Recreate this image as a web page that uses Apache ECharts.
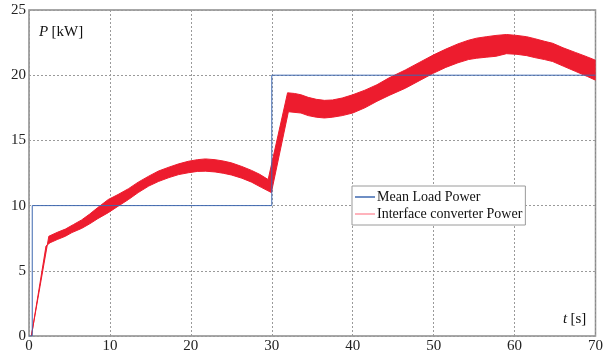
<!DOCTYPE html>
<html>
<head>
<meta charset="utf-8">
<script src="https://cdn.jsdelivr.net/npm/echarts@6/dist/echarts.min.js"></script>
<style>
  html, body { margin: 0; padding: 0; background: #fff; }
  #chart { width: 606px; height: 354px; }
</style>
</head>
<body>
<div id="chart"></div>
<script>
// Mean load power: step reference [t (s), P (kW)]
const loadPower = [[0, 0], [0.4, 0], [0.4, 10], [30, 10], [30, 20], [70, 20]];

// Interface converter power: upper envelope of the oscillating signal [t, P]
const converterUpper = [
  [0.3, 0.05], [2.45, 7.65], [3.5, 7.95], [4.5, 8.2], [5.5, 8.55], [6.5, 8.9],
  [7.5, 9.35], [8.5, 9.85], [9.8, 10.47], [11.0, 10.85], [12.3, 11.3], [13.5, 11.8],
  [14.8, 12.26], [16.0, 12.65], [17.3, 12.95], [18.5, 13.2], [19.7, 13.4],
  [20.8, 13.52], [21.8, 13.58], [23.0, 13.52], [24.0, 13.42], [25.0, 13.28],
  [26.3, 13.0], [27.5, 12.7], [28.5, 12.4], [29.55, 12.0],
  [31.95, 18.65], [32.8, 18.6], [33.6, 18.5], [34.5, 18.3], [35.5, 18.15],
  [36.5, 18.07], [37.5, 18.1], [38.7, 18.25], [40.0, 18.5], [41.5, 18.85],
  [43.0, 19.27], [44.5, 19.8], [46.5, 20.4], [48.3, 21.0], [50.0, 21.56],
  [51.5, 22.0], [53.0, 22.4], [54.3, 22.68], [55.3, 22.84], [56.5, 22.95],
  [57.7, 23.05], [59.0, 23.12], [60.3, 23.05], [61.5, 22.95], [62.5, 22.8],
  [63.7, 22.6], [64.7, 22.45], [66.0, 22.1], [67.5, 21.75], [69.0, 21.4], [70.0, 21.15]
];

// Interface converter power: lower envelope [t, P]
const converterLower = [
  [0.3, 0.0], [2.1, 6.9], [2.6, 7.15], [3.5, 7.4], [4.5, 7.65], [5.3, 7.93],
  [6.5, 8.25], [7.5, 8.6], [8.5, 9.0], [9.8, 9.46], [11.0, 9.95], [12.3, 10.47],
  [13.5, 11.0], [14.8, 11.5], [16.0, 11.85], [17.3, 12.15], [18.5, 12.38],
  [19.7, 12.52], [20.8, 12.62], [21.8, 12.64], [23.0, 12.58], [24.0, 12.48],
  [25.0, 12.35], [26.3, 12.1], [27.5, 11.8], [28.7, 11.4], [29.95, 11.0],
  [32.05, 17.2], [33.6, 17.1], [34.5, 16.9], [35.5, 16.78], [36.5, 16.72],
  [37.5, 16.78], [38.7, 16.9], [40.0, 17.1], [41.5, 17.5], [43.0, 18.0],
  [44.5, 18.45], [46.5, 19.0], [48.3, 19.6], [50.0, 20.16], [51.5, 20.6],
  [53.0, 20.95], [54.3, 21.2], [55.3, 21.3], [56.5, 21.38], [57.7, 21.45],
  [59.0, 21.65], [60.3, 21.6], [61.5, 21.5], [62.5, 21.35], [63.7, 21.2],
  [64.7, 21.05], [66.0, 20.7], [67.5, 20.3], [69.0, 19.9], [70.0, 19.62]
];

const xTicks = [0, 10, 20, 30, 40, 50, 60, 70];
const yTicks = [0, 5, 10, 15, 20, 25];

const serif = '"Liberation Serif", "DejaVu Serif", serif';
const chart = echarts.init(document.getElementById('chart'), null, { renderer: 'canvas' });

// band polygon: upper envelope left→right, lower envelope right→left
function renderBand(params, api) {
  const pts = [];
  converterUpper.forEach(p => pts.push(api.coord(p)));
  for (let i = converterLower.length - 1; i >= 0; i--) pts.push(api.coord(converterLower[i]));
  return {
    type: 'polygon',
    shape: { points: pts },
    style: { fill: '#ed1c2e', stroke: '#ed1c2e', lineWidth: 1 },
    clipPath: {
      type: 'rect',
      shape: { x: params.coordSys.x, y: params.coordSys.y, width: params.coordSys.width, height: params.coordSys.height }
    }
  };
}

chart.setOption({
  animation: false,
  backgroundColor: '#fff',
  grid: {
    left: 29, right: 6, top: 10, bottom: 17,
    show: true, borderColor: '#8a8a8a', borderWidth: 1.5, backgroundColor: 'transparent'
  },
  xAxis: {
    type: 'value', min: xTicks[0], max: xTicks[xTicks.length - 1], interval: 10,
    axisLine: { show: false },
    axisTick: { show: false },
    axisLabel: { fontFamily: serif, fontSize: 15, color: '#222', margin: 3 },
    splitLine: { show: true, lineStyle: { color: '#9a9a9a', type: [2, 2], width: 1 } }
  },
  yAxis: {
    type: 'value', min: yTicks[0], max: yTicks[yTicks.length - 1], interval: 5,
    axisLine: { show: false },
    axisTick: { show: false },
    axisLabel: { fontFamily: serif, fontSize: 15, color: '#222', margin: 3 },
    splitLine: { show: true, lineStyle: { color: '#9a9a9a', type: [2, 2], width: 1 } }
  },
  legend: {
    orient: 'vertical',
    left: 352, top: 186,
    padding: [3, 3, 3, 3],
    itemGap: 1,
    itemWidth: 20, itemHeight: 1.5,
    icon: 'rect',
    backgroundColor: '#fff',
    borderColor: '#9a9a9a', borderWidth: 1,
    textStyle: { fontFamily: serif, fontSize: 14, color: '#111', padding: [0, 0, 0, -3], lineHeight: 16 },
    data: [
      { name: 'Mean Load Power', itemStyle: { color: '#3e68b0' } },
      { name: 'Interface converter Power', itemStyle: { color: '#ff9aa6' } }
    ]
  },
  graphic: [
    {
      type: 'text', left: 39, top: 25,
      style: {
        rich: {
          it: { fontFamily: serif, fontSize: 15, fontStyle: 'italic', fill: '#111' },
          n: { fontFamily: serif, fontSize: 15, fill: '#111' }
        },
        text: '{it|P} {n|[kW]}'
      }
    },
    {
      type: 'text', left: 563, top: 312,
      style: {
        rich: {
          it: { fontFamily: serif, fontSize: 15, fontStyle: 'italic', fill: '#111' },
          n: { fontFamily: serif, fontSize: 15, fill: '#111' }
        },
        text: '{it|t} {n|[s]}'
      }
    }
  ],
  series: [
    {
      name: 'Interface converter Power',
      type: 'custom',
      renderItem: renderBand,
      data: [[0, 0]],
      z: 2,
      silent: true
    },
    {
      name: 'Mean Load Power',
      type: 'line',
      data: loadPower,
      showSymbol: false,
      lineStyle: { color: '#3e68b0', width: 1 },
      itemStyle: { color: '#3e68b0' },
      z: 3,
      silent: true
    }
  ]
});
</script>
</body>
</html>
